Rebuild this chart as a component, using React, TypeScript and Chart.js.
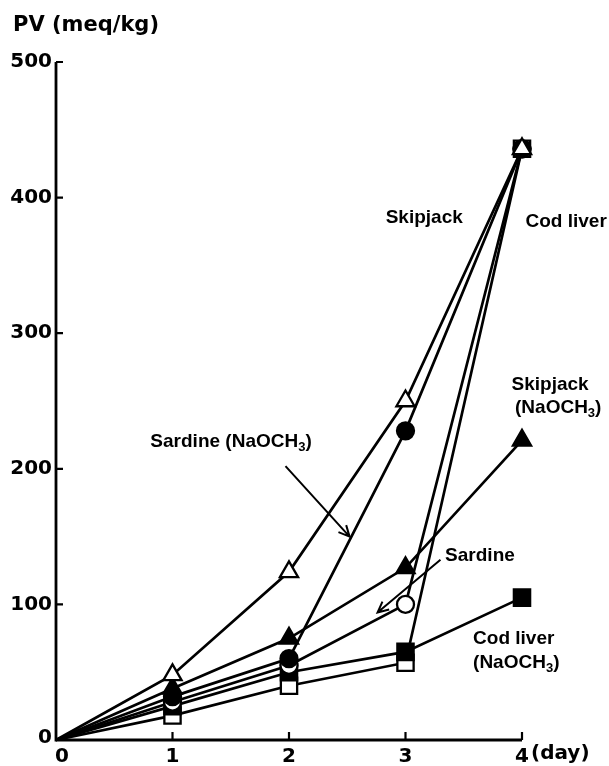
import React, { useEffect, useRef } from "react";
import { Chart, registerables } from "chart.js";

Chart.register(...registerables);

const days = [0, 1, 2, 3, 4];
const sardineNaOCH3 = [0, 48, 124, 250, 436]; // open triangle
const skipjack = [0, 32, 60, 228, 436]; // filled circle
const sardine = [0, 28, 55, 100, 436]; // open circle
const skipjackNaOCH3 = [0, 38, 75, 127, 221]; // filled triangle
const codLiverNaOCH3 = [0, 25, 50, 65, 105]; // filled square
const codLiver = [0, 18, 40, 57, 436]; // open square

const yTicks = [0, 100, 200, 300, 400, 500];
const xTicks = [0, 1, 2, 3, 4];

const TICK_FONT = "bold 20px 'DejaVu Sans'";
const LABEL_FONT = "bold 19px 'Liberation Sans'";
const SUB_FONT = "bold 13px 'Liberation Sans'";

// label positions in data units (left edge, middle)
const annotations: { text: string; sub?: string; tail?: string; x: number; y: number }[] = [
  { text: "Skipjack", x: 2.83, y: 385 },
  { text: "Cod liver", x: 4.03, y: 382 },
  { text: "Skipjack", x: 3.91, y: 262 },
  { text: "(NaOCH", sub: "3", tail: ")", x: 3.94, y: 245 },
  { text: "Sardine (NaOCH", sub: "3", tail: ")", x: 0.81, y: 220 },
  { text: "Sardine", x: 3.34, y: 136 },
  { text: "Cod liver", x: 3.58, y: 75 },
  { text: "(NaOCH", sub: "3", tail: ")", x: 3.58, y: 57 },
];
const arrows = [
  { x1: 1.97, y1: 202, x2: 2.52, y2: 150 },
  { x1: 3.3, y1: 133, x2: 2.76, y2: 94 },
];

function toPts(vals: number[]) {
  return days.map((d, i) => ({ x: d, y: vals[i] }));
}

const decor = {
  id: "decor",
  beforeDatasetsDraw(chart: any) {
    const ctx = chart.ctx;
    const xs = chart.scales.x;
    const ys = chart.scales.y;
    const x0 = xs.getPixelForValue(0);
    const y0 = ys.getPixelForValue(0);
    ctx.save();
    ctx.strokeStyle = "#000";
    ctx.lineWidth = 2.8;
    ctx.beginPath();
    ctx.moveTo(x0, ys.getPixelForValue(500));
    ctx.lineTo(x0, y0);
    ctx.lineTo(xs.getPixelForValue(4), y0);
    ctx.stroke();
    ctx.lineWidth = 2.2;
    ctx.beginPath();
    yTicks.forEach((v) => {
      if (v === 0) return;
      const py = ys.getPixelForValue(v);
      ctx.moveTo(x0, py);
      ctx.lineTo(x0 + 7, py);
    });
    xTicks.forEach((v) => {
      if (v === 0) return;
      const px = xs.getPixelForValue(v);
      ctx.moveTo(px, y0);
      ctx.lineTo(px, y0 - 8);
    });
    ctx.stroke();
    ctx.restore();
  },
  afterDraw(chart: any) {
    const ctx = chart.ctx;
    const xs = chart.scales.x;
    const ys = chart.scales.y;
    const x0 = xs.getPixelForValue(0);
    const y0 = ys.getPixelForValue(0);
    ctx.save();
    ctx.fillStyle = "#000";
    ctx.font = TICK_FONT;
    ctx.textBaseline = "middle";
    ctx.textAlign = "right";
    yTicks.forEach((v) => {
      ctx.fillText(String(v), x0 - 4, ys.getPixelForValue(v) + (v === 0 ? -2 : 0));
    });
    ctx.textAlign = "center";
    xTicks.forEach((v) => {
      ctx.fillText(String(v), xs.getPixelForValue(v) + (v === 0 ? 6 : 0), y0 + 17);
    });
    ctx.textAlign = "left";
    ctx.fillText("(day)", xs.getPixelForValue(4) + 9, y0 + 14);
    ctx.font = "bold 21px 'DejaVu Sans'";
    ctx.fillText("PV (meq/kg)", 13, 26);

    // annotations
    annotations.forEach((a) => {
      const px = xs.getPixelForValue(a.x);
      const py = ys.getPixelForValue(a.y);
      ctx.font = LABEL_FONT;
      ctx.textAlign = "left";
      ctx.fillText(a.text, px, py);
      let w = ctx.measureText(a.text).width;
      if (a.sub) {
        ctx.font = SUB_FONT;
        ctx.fillText(a.sub, px + w, py + 6);
        w += ctx.measureText(a.sub).width;
        ctx.font = LABEL_FONT;
        ctx.fillText(a.tail || "", px + w, py);
      }
    });
    ctx.strokeStyle = "#000";
    ctx.lineWidth = 2;
    arrows.forEach((a) => {
      const ax = xs.getPixelForValue(a.x1);
      const ay = ys.getPixelForValue(a.y1);
      const bx = xs.getPixelForValue(a.x2);
      const by = ys.getPixelForValue(a.y2);
      ctx.beginPath();
      ctx.moveTo(ax, ay);
      ctx.lineTo(bx, by);
      const ang = Math.atan2(by - ay, bx - ax);
      const h = 12;
      ctx.moveTo(bx - h * Math.cos(ang - 0.45), by - h * Math.sin(ang - 0.45));
      ctx.lineTo(bx, by);
      ctx.lineTo(bx - h * Math.cos(ang + 0.45), by - h * Math.sin(ang + 0.45));
      ctx.stroke();
    });
    ctx.restore();
  },
};

function ds(label: string, vals: number[], style: string, filled: boolean, radius: number, order: number) {
  return {
    label,
    data: toPts(vals),
    borderColor: "#000",
    borderWidth: 2.7,
    backgroundColor: filled ? "#000" : "#fff",
    pointStyle: style,
    pointRadius: days.map((d) => (d === 0 ? 0 : radius)),
    pointBorderColor: "#000",
    pointBackgroundColor: filled ? "#000" : "#fff",
    pointBorderWidth: 2.3,
    showLine: true,
    tension: 0,
    clip: false,
    order,
  };
}

export default function App() {
  const ref = useRef<HTMLCanvasElement>(null);
  useEffect(() => {
    if (!ref.current) return;
    const chart = new Chart(ref.current, {
      type: "scatter",
      data: {
        datasets: [
          ds("Sardine (NaOCH3)", sardineNaOCH3, "triangle", false, 10.5, 1),
          ds("Skipjack", skipjack, "circle", true, 8.5, 2),
          ds("Sardine", sardine, "circle", false, 8.5, 3),
          ds("Skipjack (NaOCH3)", skipjackNaOCH3, "triangle", true, 10.5, 4),
          ds("Cod liver (NaOCH3)", codLiverNaOCH3, "rect", true, 11.5, 5),
          ds("Cod liver", codLiver, "rect", false, 11.5, 6),
        ] as any,
      },
      options: {
        animation: false,
        responsive: false,
        layout: { padding: { left: 56, right: 87, top: 62, bottom: 26 } },
        plugins: { legend: { display: false }, tooltip: { enabled: false } },
        scales: {
          x: { type: "linear", min: 0, max: 4, display: false },
          y: { type: "linear", min: 0, max: 500, display: false },
        },
      },
      plugins: [decor],
    });
    return () => chart.destroy();
  }, []);
  return (
    <div style={{ position: "absolute", left: 0, top: 0, width: 609, height: 766, background: "#fff" }}>
      <canvas ref={ref} width={609} height={766} />
    </div>
  );
}
